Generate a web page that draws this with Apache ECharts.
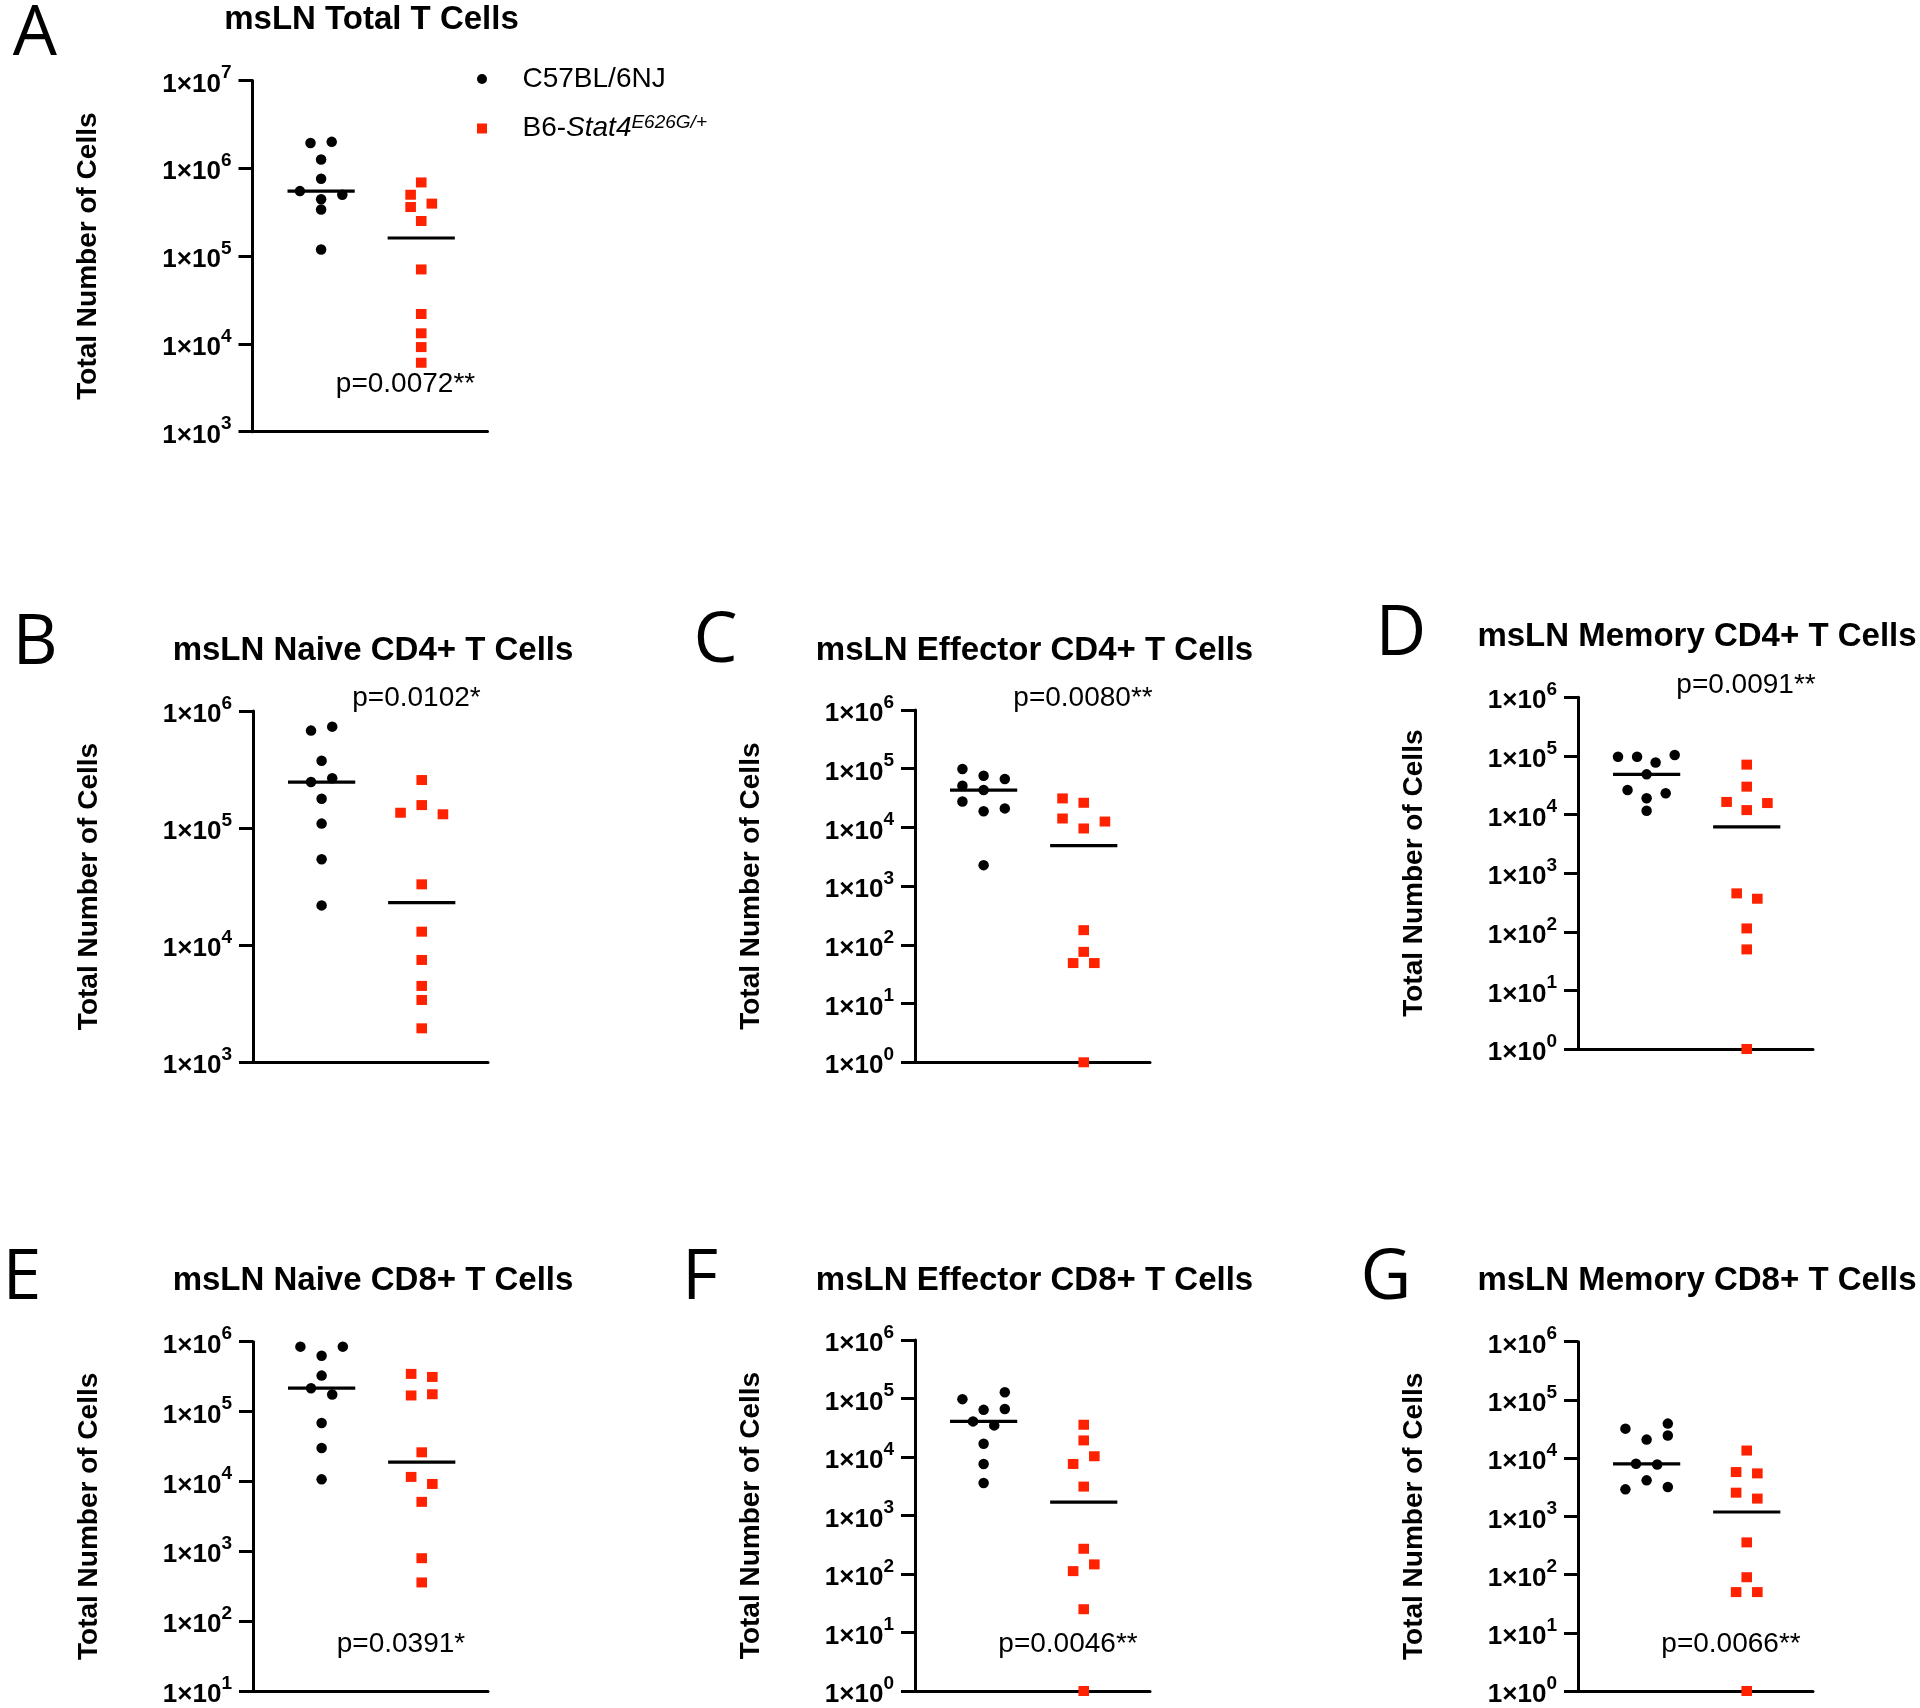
<!DOCTYPE html>
<html><head><meta charset="utf-8">
<script src="https://cdn.jsdelivr.net/npm/echarts@6/dist/echarts.min.js"></script>
<style>html,body{margin:0;padding:0;background:#fff}#chart{width:1920px;height:1708px}</style>
</head><body><div id="chart"></div>
<script>
// ---------- data ----------
const groups = ['C57BL/6NJ', 'B6-Stat4E626G/+'];
const panelLetters = ['A', 'B', 'C', 'D', 'E', 'F', 'G'];
const panelTitles = ['msLN Total T Cells', 'msLN Naive CD4+ T Cells', 'msLN Effector CD4+ T Cells',
  'msLN Memory CD4+ T Cells', 'msLN Naive CD8+ T Cells', 'msLN Effector CD8+ T Cells', 'msLN Memory CD8+ T Cells'];
const pValues = ['p=0.0072**', 'p=0.0102*', 'p=0.0080**', 'p=0.0091**', 'p=0.0391*', 'p=0.0046**', 'p=0.0066**'];
const yAxisName = 'Total Number of Cells';
const yMinExp = [3, 3, 0, 0, 1, 0, 0];
const yMaxExp = [7, 6, 6, 6, 6, 6, 6];

const wtA = [1.94e6, 2.0e6, 1.26e6, 7.6e5, 5.5e5, 5.0e5, 4.45e5, 3.4e5, 1.19e5];
const mutA = [6.9e5, 5.0e5, 3.96e5, 3.62e5, 2.51e5, 7.05e4, 2.19e4, 1.32e4, 9.2e3, 6.1e3];
const wtB = [6.8e5, 7.35e5, 3.76e5, 2.47e5, 2.66e5, 1.78e5, 1.09e5, 5.4e4, 2.18e4];
const mutB = [2.57e5, 1.57e5, 1.35e5, 1.31e5, 3.3e4, 1.3e4, 7.45e3, 4.47e3, 3.39e3, 1.94e3];
const wtC = [9.9e4, 7.6e4, 6.67e4, 5.13e4, 4.33e4, 2.77e4, 2.11e4, 1.88e4, 2.28e3];
const mutC = [3.12e4, 2.63e4, 1.42e4, 1.26e4, 9.6e3, 178, 76, 49, 49, 1];
const wtD = [9.7e4, 9.7e4, 1.04e5, 7.7e4, 4.85e4, 2.62e4, 2.3e4, 1.89e4, 1.16e4];
const mutD = [7.1e4, 2.99e4, 1.64e4, 1.57e4, 1.19e4, 452, 366, 114, 50, 1];
const wtE = [8.5e5, 8.5e5, 6.3e5, 3.27e5, 2.16e5, 1.75e5, 6.85e4, 3.01e4, 1.07e4];
const mutE = [3.46e5, 3.13e5, 1.77e5, 1.7e5, 2.61e4, 1.16e4, 9.2e3, 5.1e3, 796, 358];
const wtF = [1.28e5, 9.75e4, 6.6e4, 6.4e4, 4.06e4, 3.47e4, 1.69e4, 7.6e3, 3.6e3];
const mutF = [3.56e4, 1.92e4, 1.03e4, 7.6e3, 3.12e3, 270, 146, 112, 25, 1];
const wtG = [3.92e4, 3.21e4, 2.44e4, 2.08e4, 8.0e3, 7.8e3, 4.15e3, 3.19e3, 2.91e3];
const mutG = [1.35e4, 5.77e3, 5.47e3, 2.55e3, 2.02e3, 357, 90, 50, 50, 1];

// horizontal dodge slots (in marker-step units)
const wtSlotA = [-1, 1, 0, 0, -2, 2, 0, 0, 0];
const mutSlotA = [0, -1, 1, -1, 0, 0, 0, 0, 0, 0];
const wtSlotB = [-1, 1, 0, -1, 1, 0, 0, 0, 0];
const mutSlotB = [0, 0, -2, 2, 0, 0, 0, 0, 0, 0];
const wtSlotC = [-2, 0, 2, -2, 0, -2, 2, 0, 0];
const mutSlotC = [-2, 0, -2, 2, 0, 0, 0, -1, 1, 0];
const wtSlotD = [-2.7, -0.9, 2.65, 0.85, 0, -1.8, 1.8, 0, 0];
const mutSlotD = [0, 0, -1.9, 1.95, 0, -0.95, 1, 0, 0, 0];
const wtSlotE = [-2, 2, 0, 0, -1, 1, 0, 0, 0];
const mutSlotE = [-1, 1, 1, -1, 0, -1, 1, 0, 0, 0];
const wtSlotF = [2, -2, 2, 0, -1, 1, 0, 0, 0];
const mutSlotF = [0, 0, 1, -1, 0, 0, 1, -1, 0, 0];
const wtSlotG = [2, -2, 2, 0, -1, 1, 0, 2, -2];
const mutSlotG = [0, -1, 1, -1, 1, 0, 0, -1, 1, 0];

const wtAll = [wtA, wtB, wtC, wtD, wtE, wtF, wtG];
const mutAll = [mutA, mutB, mutC, mutD, mutE, mutF, mutG];
const wtSlots = [wtSlotA, wtSlotB, wtSlotC, wtSlotD, wtSlotE, wtSlotF, wtSlotG];
const mutSlots = [mutSlotA, mutSlotB, mutSlotC, mutSlotD, mutSlotE, mutSlotF, mutSlotG];

// ---------- layout ----------
const FONT = '"Liberation Sans", Arial, Helvetica, sans-serif';
const grids = [
  {left: 252.5, top: 80.5, width: 235, height: 351.2},
  {left: 253, top: 711, width: 235, height: 351},
  {left: 915, top: 710, width: 235, height: 352.3},
  {left: 1578, top: 697.3, width: 235, height: 351.7},
  {left: 253, top: 1341.7, width: 235, height: 350.6},
  {left: 915, top: 1340, width: 235, height: 352.3},
  {left: 1578, top: 1341.7, width: 235, height: 351}
];
const letterPos = [[35, 35], [35, 644], [715.5, 642], [1401, 635], [22, 1279], [700, 1279], [1386, 1279]];
const titlePos = [[371.5, 20], [373, 651], [1034.5, 651], [1697, 637], [373, 1281], [1034.5, 1281], [1697, 1281]];
const pPos = [[405.5, 384], [416.5, 698], [1083, 698], [1746, 685], [401, 1644], [1068, 1644], [1731, 1644]];
const groupCenter = [0.292, 0.718];
const slotUnit = 0.0451;
const medianHalf = 0.143;
const RED = '#ff2200';

function median(arr) {
  const s = arr.slice().sort((a, b) => a - b);
  const n = s.length;
  return n % 2 ? s[(n - 1) / 2] : (s[n / 2 - 1] + s[n / 2]) / 2;
}

const xAxes = [], yAxes = [], series = [], graphics = [];
grids.forEach((g, i) => {
  xAxes.push({
    gridIndex: i, type: 'value', min: 0, max: 1,
    axisLine: {show: true, onZero: false, lineStyle: {color: '#000', width: 3}},
    axisTick: {show: false}, axisLabel: {show: false}, splitLine: {show: false}
  });
  yAxes.push({
    gridIndex: i, type: 'log', logBase: 10,
    min: Math.pow(10, yMinExp[i]), max: Math.pow(10, yMaxExp[i]),
    axisLine: {show: true, lineStyle: {color: '#000', width: 3}},
    axisTick: {show: true, length: 14, lineStyle: {color: '#000', width: 3}},
    minorTick: {show: false}, splitLine: {show: false},
    axisLabel: {
      margin: 21,
      formatter: v => '{m|1×10}{s|' + Math.round(Math.log10(v)) + '}',
      rich: {
        m: {fontFamily: FONT, fontWeight: 'bold', fontSize: 26, color: '#000', lineHeight: 34, verticalAlign: 'bottom'},
        s: {fontFamily: FONT, fontWeight: 'bold', fontSize: 19, color: '#000', lineHeight: 19, verticalAlign: 'top'}
      }
    },
    name: yAxisName, nameLocation: 'middle', nameGap: 150, nameRotate: 90,
    nameTextStyle: {fontFamily: FONT, fontWeight: 'bold', fontSize: 28, color: '#000'}
  });
  const wt = wtAll[i], mut = mutAll[i];
  series.push({
    name: groups[0], type: 'scatter', xAxisIndex: i, yAxisIndex: i,
    symbol: 'circle', symbolSize: 10.5, itemStyle: {color: '#000', opacity: 1}, z: 3,
    data: wt.map((v, k) => [groupCenter[0] + wtSlots[i][k] * slotUnit, v])
  });
  series.push({
    name: groups[1], type: 'scatter', xAxisIndex: i, yAxisIndex: i,
    symbol: 'rect', symbolSize: [10.6, 10], itemStyle: {color: RED, opacity: 1}, z: 3,
    data: mut.map((v, k) => [groupCenter[1] + mutSlots[i][k] * slotUnit, v])
  });
  [wt, mut].forEach((arr, gi) => {
    const m = median(arr);
    series.push({
      name: groups[gi] + ' median', type: 'line', xAxisIndex: i, yAxisIndex: i,
      symbol: 'none', silent: true, z: 4,
      lineStyle: {color: '#000', width: 3.2},
      data: [[groupCenter[gi] - medianHalf, m], [groupCenter[gi] + medianHalf, m]]
    });
  });
  graphics.push({
    type: 'text', x: letterPos[i][0], y: letterPos[i][1], silent: true,
    style: {text: panelLetters[i], fontFamily: '"Open Sans", "Noto Sans", sans-serif', fontSize: 70,
      fill: '#000', align: 'center', verticalAlign: 'middle'}
  });
  graphics.push({
    type: 'text', x: titlePos[i][0], y: titlePos[i][1], silent: true,
    style: {text: panelTitles[i], fontFamily: FONT, fontWeight: 'bold', fontSize: 33,
      fill: '#000', align: 'center', verticalAlign: 'middle'}
  });
  graphics.push({
    type: 'text', x: pPos[i][0], y: pPos[i][1], silent: true,
    style: {text: pValues[i], fontFamily: FONT, fontSize: 28,
      fill: '#000', align: 'center', verticalAlign: 'middle'}
  });
});

const chart = echarts.init(document.getElementById('chart'), null, {renderer: 'canvas'});
chart.setOption({
  animation: false,
  backgroundColor: '#fff',
  grid: grids,
  xAxis: xAxes,
  yAxis: yAxes,
  series: series,
  legend: {
    orient: 'vertical', left: 472, top: 60, itemWidth: 71, itemHeight: 10, itemGap: 20,
    selectedMode: false, symbolKeepAspect: true,
    data: [
      {name: groups[0], icon: 'path://M0,1A1,1,0,1,1,2,1A1,1,0,1,1,0,1Z'},
      {name: groups[1], icon: 'path://M0,0H2V2H0Z'}
    ],
    formatter: name => name === groups[1] ? '{n|B6-}{i|Stat4}{s|E626G/+}' : '{n|' + name + '}',
    textStyle: {
      fontFamily: FONT, fontSize: 28, color: '#000',
      rich: {
        n: {fontFamily: FONT, fontSize: 28, color: '#000', lineHeight: 31},
        i: {fontFamily: FONT, fontSize: 28, fontStyle: 'italic', color: '#000', lineHeight: 31},
        s: {fontFamily: FONT, fontSize: 19, fontStyle: 'italic', color: '#000', lineHeight: 19, verticalAlign: 'top'}
      }
    }
  },
  graphic: graphics
});
</script>
</body></html>
